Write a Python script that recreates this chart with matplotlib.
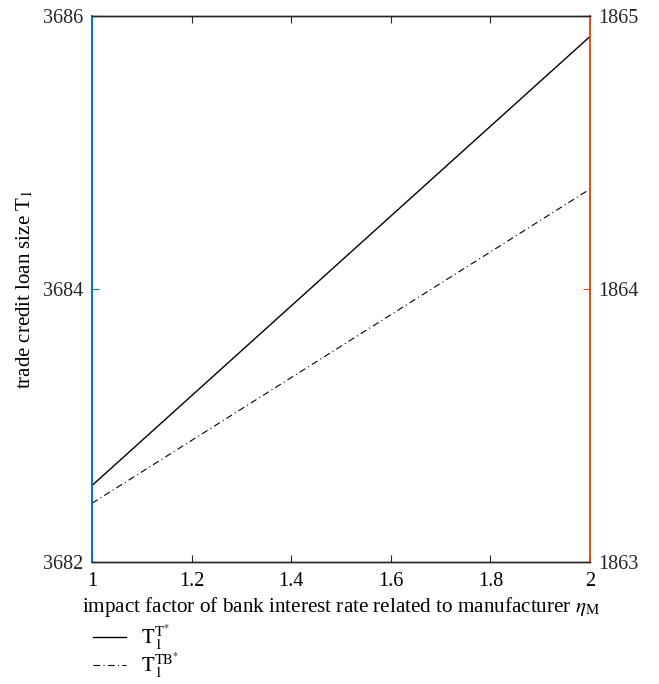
import numpy as np
import matplotlib
matplotlib.use('Agg')
import matplotlib.pyplot as plt

plt.rcParams['font.family'] = ['Liberation Serif', 'DejaVu Serif']
plt.rcParams['mathtext.fontset'] = 'stix'

# данные
eta_m = [1.0, 2.0]
t_star = [3682.56, 3685.85]        # левая ось
tb_star = [1863.215, 1864.366]     # правая ось

x_ticks = [1, 1.2, 1.4, 1.6, 1.8, 2]
x_tick_labels = ['1', '1.2', '1.4', '1.6', '1.8', '2']
left_ticks = [3682, 3684, 3686]
right_ticks = [1863, 1864, 1865]

blue = '#0072BD'
orange = '#D95319'

fig = plt.figure(figsize=(6.59, 6.84), dpi=100)
ax = fig.add_axes([0.1396, 0.1784, 0.7557, 0.7982])
ax2 = ax.twinx()

l1, = ax.plot(eta_m, t_star, color='black', lw=1.0, label=r'$\mathrm{T}_1^{\mathrm{T}^{*}}$')
l2, = ax2.plot(eta_m, tb_star, color='black', lw=0.8, linestyle=(0, (6, 3, 1, 3)),
               label=r'$\mathrm{T}_1^{\mathrm{TB}^{*}}$')

ax.set_xlim(1, 2)
ax.set_ylim(3682, 3686)
ax2.set_ylim(1863, 1865)
ax.set_xticks(x_ticks)
ax.set_xticklabels(x_tick_labels)
ax.set_yticks(left_ticks)
ax2.set_yticks(right_ticks)

for a in (ax, ax2):
    for s in ['top', 'bottom']:
        a.spines[s].set_color('#262626')
        a.spines[s].set_linewidth(1.0)
    a.spines['left'].set_color(blue)
    a.spines['right'].set_color(orange)
    a.spines['left'].set_linewidth(1.2)
    a.spines['right'].set_linewidth(1.2)

ax.tick_params(axis='x', direction='in', top=True, length=5, labelsize=14.5, pad=7, color='#262626')
ax.tick_params(axis='y', direction='in', length=5, labelsize=14.5, color=blue, labelcolor='#262626', pad=6)
ax2.tick_params(axis='y', direction='in', length=5, labelsize=14.5, color=orange, labelcolor='#262626', pad=6)

ax.set_xlabel(r'impact factor of bank interest rate related to manufacturer $\eta_{\mathrm{M}}$',
              fontsize=15.2, labelpad=3)
ax.set_ylabel(r'trade credit loan size T$_1$', fontsize=15, labelpad=6)

fig.legend(handles=[l1, l2], loc='lower left', bbox_to_anchor=(0.128, -0.006),
           frameon=False, fontsize=15, handlelength=1.6, labelspacing=-0.05,
           borderaxespad=0, handletextpad=0.7)

fig.savefig('out.png', dpi=100)
